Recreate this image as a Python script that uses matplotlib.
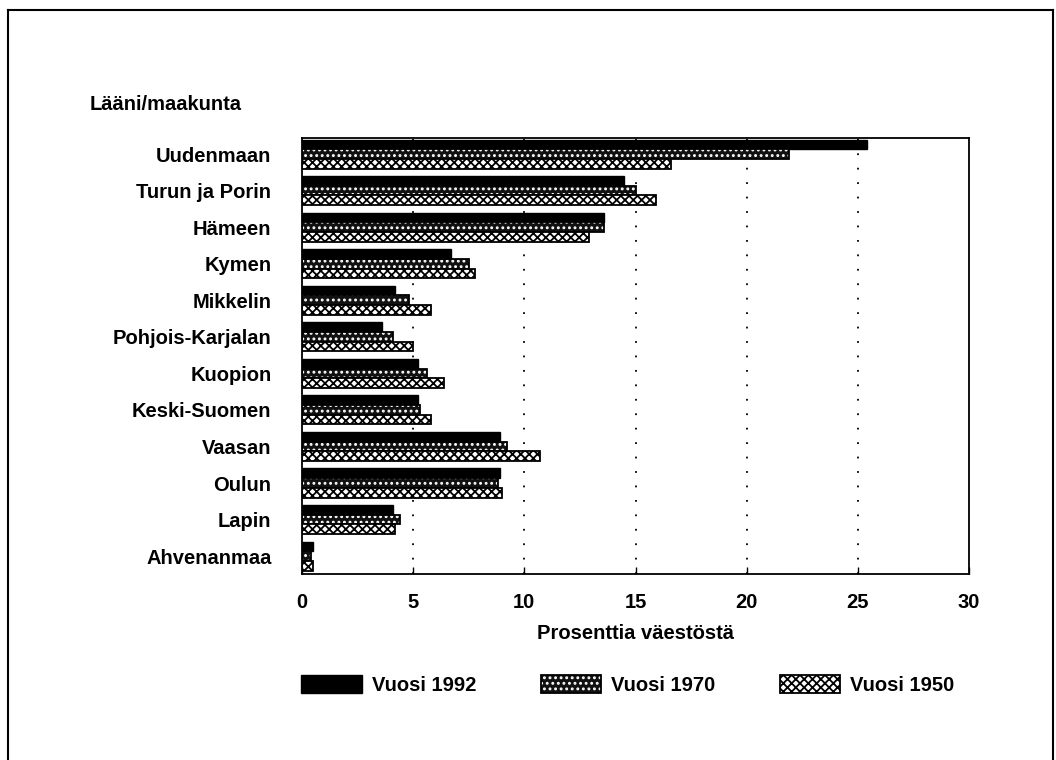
import matplotlib
matplotlib.use("Agg")
import matplotlib.pyplot as plt
import numpy as np
from matplotlib.legend_handler import HandlerTuple

laanit = ["Uudenmaan", "Turun ja Porin", "Hämeen", "Kymen", "Mikkelin",
          "Pohjois-Karjalan", "Kuopion", "Keski-Suomen", "Vaasan", "Oulun",
          "Lapin", "Ahvenanmaa"]
vuosi_1992 = [25.4, 14.5, 13.6, 6.7, 4.2, 3.6, 5.2, 5.2, 8.9, 8.9, 4.1, 0.5]
vuosi_1970 = [21.9, 15.0, 13.6, 7.5, 4.8, 4.1, 5.6, 5.3, 9.2, 8.8, 4.4, 0.4]
vuosi_1950 = [16.6, 15.9, 12.9, 7.8, 5.8, 5.0, 6.4, 5.8, 10.7, 9.0, 4.2, 0.5]
xticks = [0, 5, 10, 15, 20, 25, 30]

plt.rcParams['font.family'] = ['Liberation Sans', 'DejaVu Sans']
plt.rcParams['font.weight'] = 'bold'
plt.rcParams['axes.labelweight'] = 'bold'
plt.rcParams['hatch.linewidth'] = 1.3

fs = 14.5

fig = plt.figure(figsize=(10.56, 7.6), dpi=100)
ax = fig.add_axes([0.286, 0.2447, 0.6316, 0.5737])

y = np.arange(len(laanit))
h = 0.265

# 1992: umpimusta
b1 = ax.barh(y - h, vuosi_1992, height=h, color='black', edgecolor='black', linewidth=1)
# 1970: tumma pisterasteri
b2a = ax.barh(y, vuosi_1970, height=h, color='#111111', edgecolor='white',
              hatch='...', linewidth=0)
b2b = ax.barh(y, vuosi_1970, height=h, fill=False, edgecolor='black', linewidth=1.3)
# 1950: vaalea ristirasteri
b3 = ax.barh(y + h, vuosi_1950, height=h, color='white', edgecolor='black',
             hatch='xxxx', linewidth=1.3)

ax.set_xlim(0, 30)
ax.set_ylim(11.49, -0.44)
ax.set_xticks(xticks)
ax.set_yticks(y)
ax.set_yticklabels(laanit)

for xv in xticks[1:-1]:
    ax.axvline(xv, color='black', linestyle=(0, (1, 7)), linewidth=1.3, zorder=0)

ax.tick_params(axis='y', length=0, pad=22, labelsize=fs)
ax.tick_params(axis='x', direction='in', length=5, width=1, pad=14, labelsize=fs)
for s in ax.spines.values():
    s.set_linewidth(1.3)

ax.set_xlabel("Prosenttia väestöstä", fontsize=fs, labelpad=8)
fig.text(90 / 1056, 1 - 105 / 760, "Lääni/maakunta", fontsize=fs, va='center', ha='left')

handles = [b1[0], (b2a[0], b2b[0]), b3[0]]
fig.legend(handles, ["Vuosi 1992", "Vuosi 1970", "Vuosi 1950"],
           handler_map={tuple: HandlerTuple(ndivide=1, pad=0)},
           loc='center', bbox_to_anchor=(628 / 1056, 1 - 685 / 760), ncol=3,
           frameon=False, fontsize=fs, handlelength=3.0, handleheight=1.0,
           columnspacing=3.2, handletextpad=0.5)

# kehys kuvan ympärillä
for xs, ys in [([8, 8], [760, 10]), ([8, 1053], [10, 10]), ([1053, 1053], [10, 760])]:
    fig.add_artist(plt.Line2D([v / 1056 for v in xs], [1 - v / 760 for v in ys],
                              color='black', lw=1.5, transform=fig.transFigure))

fig.savefig("out.png", dpi=100)
